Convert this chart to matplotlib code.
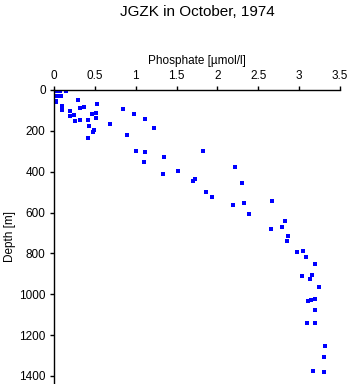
"""
Profil fosfata po globini, JGZK oktober 1974
"""

import matplotlib
matplotlib.use('Agg')
from matplotlib import pyplot as plt

# Fosfat [umol/l] in globina [m], odčitano s slike
fosfat = [0.01, 0.02, 0.07, 0.15,
          0.01, 0.02, 0.05, 0.08, 0.03, 0.03,
          0.10, 0.10, 0.29, 0.20, 0.20, 0.24, 0.26,
          0.32, 0.37, 0.32, 0.42, 0.46, 0.51, 0.51,
          0.43, 0.49, 0.48, 0.42, 0.53, 0.69, 0.84,
          0.98, 1.11, 1.22, 0.89, 1.00, 1.11, 1.10,
          1.35, 1.34, 1.52, 1.82, 2.22, 1.73, 1.70,
          1.86, 1.93, 2.30, 2.19, 2.33, 2.39, 2.67,
          2.83, 2.65, 2.79, 2.86, 2.85, 2.97, 3.05,
          3.09, 3.19, 3.03, 3.16, 3.13, 3.24, 3.20,
          3.15, 3.11, 3.19, 3.10, 3.20, 3.32, 3.30,
          3.17, 3.31]
globina = [3, 3, 3, 3,
           27, 27, 27, 27, 52, 59,
           80, 99, 51, 104, 127, 124, 153,
           90, 83, 148, 148, 119, 113, 139,
           178, 197, 204, 236, 70, 168, 94,
           119, 143, 187, 220, 298, 303, 354,
           329, 412, 398, 298, 377, 435, 448,
           500, 523, 456, 564, 554, 606, 545,
           641, 680, 672, 714, 740, 794, 789,
           818, 851, 910, 906, 928, 965, 1024,
           1027, 1035, 1077, 1143, 1143, 1253, 1307,
           1376, 1381]

x_oznake = ['0', '0.5', '1', '1.5', '2', '2.5', '3', '3.5']
x_vrednosti = [0, 0.5, 1, 1.5, 2, 2.5, 3, 3.5]
y_vrednosti = [0, 200, 400, 600, 800, 1000, 1200, 1400]

plt.rcParams['font.family'] = ['Liberation Sans', 'DejaVu Sans']

fig = plt.figure(figsize=(3.5, 3.84), dpi=100)
ax = fig.add_axes([54 / 350, 0.0, 286 / 350, 294 / 384])

ax.scatter(fosfat, globina, marker='s', s=5, color='#0000ff', linewidths=0)

ax.set_xlim(0, 3.5)
ax.set_ylim(1440, 0)

# Os x zgoraj
ax.xaxis.set_ticks_position('top')
ax.xaxis.set_label_position('top')
ax.set_xticks(x_vrednosti)
ax.set_xticklabels(x_oznake)
ax.set_yticks(y_vrednosti)

ax.spines['right'].set_visible(False)
ax.spines['bottom'].set_visible(False)
for s in ('top', 'left'):
    ax.spines[s].set_linewidth(1.0)

ax.tick_params(direction='out', length=3, width=1.0, labelsize=8.5, pad=3)
ax.set_xlabel('Phosphate [µmol/l]', fontsize=8.5, labelpad=4)
ax.set_ylabel('Depth [m]', fontsize=8.5, labelpad=2)

fig.text(197 / 350, 1 - 12 / 384, 'JGZK in October, 1974',
         ha='center', va='center', fontsize=11)

plt.savefig('out.png', dpi=100)
